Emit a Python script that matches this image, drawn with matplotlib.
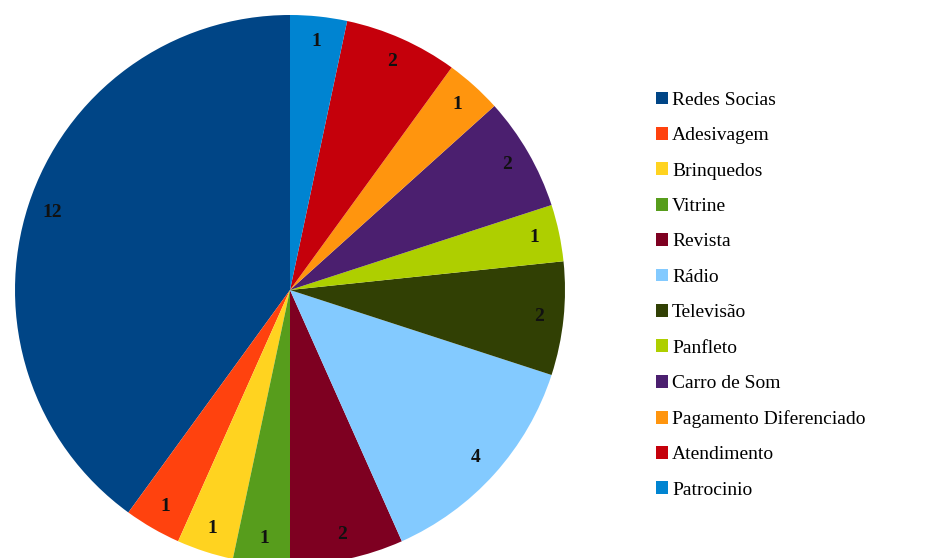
import matplotlib.pyplot as plt
from matplotlib.patches import Patch

# ---------------------------------------------------------------
# Data
# ---------------------------------------------------------------
categories = [
    "Redes Socias", "Adesivagem", "Brinquedos", "Vitrine", "Revista",
    "Rádio", "Televisão", "Panfleto", "Carro de Som",
    "Pagamento Diferenciado", "Atendimento", "Patrocinio",
]
values = [12, 1, 1, 1, 2, 4, 2, 1, 2, 1, 2, 1]
colors = [
    "#004586", "#ff420e", "#ffd320", "#579d1c", "#7e0021", "#83caff",
    "#314004", "#aecf00", "#4b1f6f", "#ff950e", "#c5000b", "#0084d1",
]

plt.rcParams["font.family"] = ["Liberation Serif", "DejaVu Serif"]

W, H = 936, 558
fig = plt.figure(figsize=(W / 100, H / 100), dpi=100)

# pie centre ~ (290, 290) px, radius ~ 275 px
cx, cy, r = 290, 290, 275
ax = fig.add_axes([(cx - r) / W, (H - cy - r) / H, 2 * r / W, 2 * r / H])
ax.pie(
    values,
    colors=colors,
    startangle=90,
    counterclock=True,
    radius=1,
    labels=[str(v) for v in values],
    labeldistance=0.91,
    textprops={"fontsize": 14, "fontweight": "bold", "color": "#111111"},
)
for t in ax.texts:
    t.set_horizontalalignment("center")
    t.set_verticalalignment("center")
ax.set_xlim(-1, 1)
ax.set_ylim(-1, 1)
ax.set_aspect("equal")
ax.axis("off")

handles = [Patch(facecolor=c, edgecolor="none", label=l) for c, l in zip(colors, categories)]
fig.legend(
    handles=handles,
    loc="upper left",
    bbox_to_anchor=(638 / W, 1 - 74 / H),
    frameon=False,
    fontsize=14,
    handlelength=0.65,
    handleheight=0.65,
    handletextpad=0.2,
    labelspacing=0.93,
)

fig.savefig("out.png", dpi=100)
